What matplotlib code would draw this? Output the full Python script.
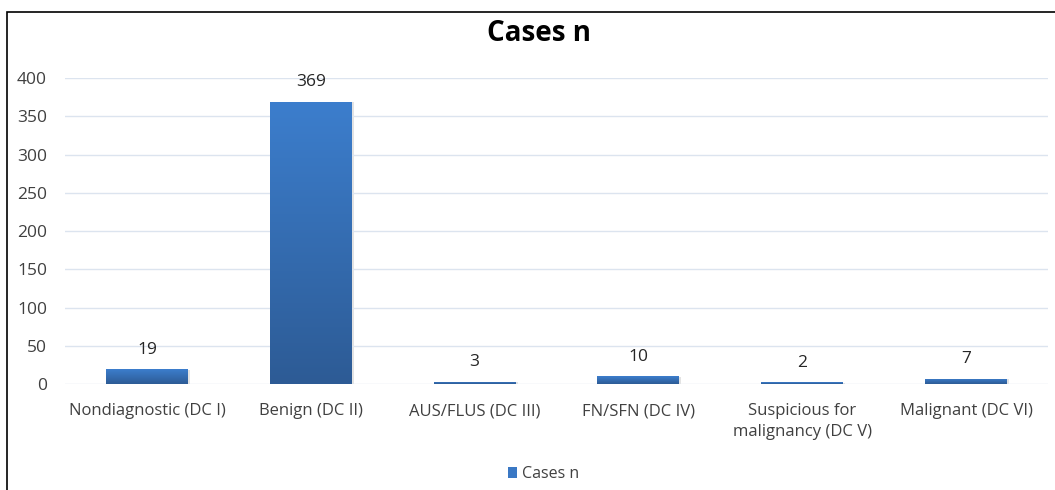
import numpy as np
import matplotlib.pyplot as plt
from matplotlib.patches import Rectangle
from matplotlib.colors import LinearSegmentedColormap

categories = ["Nondiagnostic (DC I)", "Benign (DC II)", "AUS/FLUS (DC III)",
              "FN/SFN (DC IV)", "Suspicious for\nmalignancy (DC V)", "Malignant (DC VI)"]
cases = [19, 369, 3, 10, 2, 7]
yticks = [0, 50, 100, 150, 200, 250, 300, 350, 400]

plt.rcParams['font.family'] = ['Open Sans', 'DejaVu Sans']

fig = plt.figure(figsize=(10.55, 4.9), dpi=100)
ax = fig.add_axes([0.0616, 0.2163, 0.9318, 0.6245])

x = np.arange(len(categories))
bars = ax.bar(x, cases, width=0.5, color='#3a78c4', zorder=2)

# gradient fill per bar, light at top to dark at bottom
cmap = LinearSegmentedColormap.from_list('g', ['#2d5b95', '#3c7ecd'])
grad = np.linspace(0, 1, 256).reshape(-1, 1)
for b in bars:
    x0, y0 = b.get_x(), b.get_y()
    w, h = b.get_width(), b.get_height()
    im = ax.imshow(grad, cmap=cmap, origin='lower', aspect='auto',
                   extent=[x0, x0 + w, 0, h], zorder=3)
    im.set_clip_path(b)
    ax.add_patch(Rectangle((x0 + 0.012, y0 - 1.0), w, h, facecolor='#c8c8c8', alpha=0.5,
                           edgecolor='none', zorder=1))

for xi, v in zip(x, cases):
    ax.annotate(str(v), (xi, v), xytext=(0, 14), textcoords='offset points',
                ha='center', va='center', fontsize=12.5, color='#262626')

ax.set_xlim(-0.5, len(categories) - 0.5)
ax.set_ylim(0, 400)
ax.set_yticks(yticks)
ax.set_xticks(x)
ax.set_xticklabels(categories, fontsize=12, color='#404040', linespacing=1.4)
ax.tick_params(axis='y', labelsize=12.5, labelcolor='#404040', length=0, pad=13)
ax.tick_params(axis='x', length=0, pad=14)
ax.grid(axis='y', color='#dce4ef', linewidth=1, zorder=0)
for s in ax.spines.values():
    s.set_visible(False)

fig.text(0.511, 0.932, "Cases n", ha='center', va='center', fontsize=20,
         fontweight='bold', color='black')

handle = Rectangle((0, 0), 1, 1, facecolor='#3a78c4')
fig.legend([handle], ["Cases n"], loc='center', bbox_to_anchor=(0.515, 0.033),
           frameon=False, fontsize=11.5, handlelength=0.6, handleheight=0.7,
           handletextpad=0.3, labelcolor='#404040')

# outer chart border (right and bottom lie beyond the image)
fig.patches.append(Rectangle((7 / 1055, -0.2), 2, 0.2 + (1 - 12 / 490),
                             transform=fig.transFigure, fill=False,
                             edgecolor='black', linewidth=1.2))

fig.savefig('out.png', dpi=100)
